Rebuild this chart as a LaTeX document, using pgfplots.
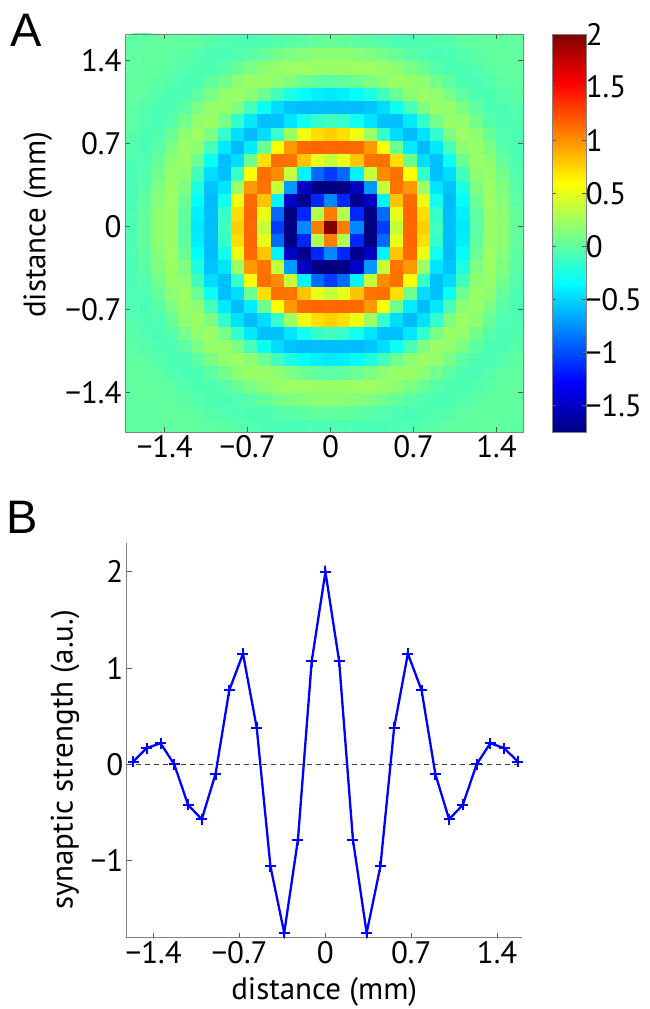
\documentclass[border=0pt]{standalone}
\usepackage{pgfplots}
\pgfplotsset{compat=1.18}
\usepackage{fontspec}
\setmainfont{PT Sans}
\newfontfamily\panelfont{Liberation Sans}
\newcommand{\tfont}{\fontsize{31}{36}\selectfont}
\definecolor{axgray}{RGB}{130,130,130}
\definecolor{mblue}{RGB}{0,0,255}

\begin{document}
\begin{tikzpicture}
\useasboundingbox (0,0) rectangle (649pt,1009pt);
% ---------------- Panel A ----------------
\begin{axis}[
  at={(125pt,577pt)}, anchor=south west,
  scale only axis, width=398pt, height=398pt,
  xmin=-1.736, xmax=1.624, ymin=-1.736, ymax=1.624,
  axis on top,
  xtick={-1.4,-0.7,0,0.7,1.4}, ytick={-1.4,-0.7,0,0.7,1.4},
  xticklabels={−1.4,−0.7,0,0.7,1.4}, yticklabels={−1.4,−0.7,0,0.7,1.4},
  tick align=inside, major tick length=5pt,
  axis line style={draw=axgray, line width=0.8pt},
  tick style={draw=black!65, line width=0.8pt},
  tick label style={font=\tfont},
  label style={font=\tfont},
  ylabel={distance (mm)},
  ylabel style={at={(axis description cs:-0.219,0.52)}, anchor=center},
  colormap/jet,
  point meta min=-1.75, point meta max=2,
  colorbar,
  colorbar/width=34pt,
  colorbar style={
    at={(parent axis.north east)}, anchor=north west, xshift=20.7pt,
    width=34pt,
    axis on top,
    ytick={-1.5,-1,-0.5,0,0.5,1,1.5,2},
    yticklabels={−1.5,−1,−0.5,0,0.5,1,1.5,2},
    yticklabel style={font=\tfont, xshift=-4pt},
    tick align=inside, major tick length=4pt,
    axis line style={draw=axgray, line width=0.8pt},
    tick style={draw=black!65, line width=0.8pt},
    ytick pos=both, yticklabel pos=right,
  },
]
\addplot[matrix plot*, mesh/cols=30, point meta=explicit]
  table[row sep=\\, header=false, meta index=0,
        x expr={(mod(\coordindex,30)-15)*0.112},
        y expr={(floor(\coordindex/30)-15)*0.112}] {
0.00\\ 0.00\\ 0.01\\ 0.01\\ 0.02\\ 0.01\\ 0.00\\ -0.01\\ -0.03\\ -0.05\\ -0.06\\ -0.07\\ -0.07\\ -0.07\\ -0.06\\ -0.06\\ -0.06\\ -0.07\\ -0.07\\ -0.07\\ -0.06\\ -0.05\\ -0.03\\ -0.01\\ 0.00\\ 0.01\\ 0.02\\ 0.01\\ 0.01\\ 0.00\\
0.00\\ 0.01\\ 0.01\\ 0.02\\ 0.01\\ 0.00\\ -0.03\\ -0.05\\ -0.06\\ -0.07\\ -0.06\\ -0.04\\ -0.02\\ 0.00\\ 0.02\\ 0.02\\ 0.02\\ 0.00\\ -0.02\\ -0.04\\ -0.06\\ -0.07\\ -0.06\\ -0.05\\ -0.03\\ 0.00\\ 0.01\\ 0.02\\ 0.01\\ 0.01\\
0.01\\ 0.01\\ 0.02\\ 0.01\\ -0.01\\ -0.04\\ -0.06\\ -0.07\\ -0.05\\ -0.02\\ 0.03\\ 0.08\\ 0.12\\ 0.15\\ 0.17\\ 0.17\\ 0.17\\ 0.15\\ 0.12\\ 0.08\\ 0.03\\ -0.02\\ -0.05\\ -0.07\\ -0.06\\ -0.04\\ -0.01\\ 0.01\\ 0.02\\ 0.01\\
0.01\\ 0.02\\ 0.01\\ -0.01\\ -0.04\\ -0.06\\ -0.06\\ -0.03\\ 0.04\\ 0.11\\ 0.17\\ 0.21\\ 0.23\\ 0.23\\ 0.22\\ 0.22\\ 0.22\\ 0.23\\ 0.23\\ 0.21\\ 0.17\\ 0.11\\ 0.04\\ -0.03\\ -0.06\\ -0.06\\ -0.04\\ -0.01\\ 0.01\\ 0.02\\
0.02\\ 0.01\\ -0.01\\ -0.04\\ -0.07\\ -0.06\\ 0.00\\ 0.08\\ 0.17\\ 0.22\\ 0.22\\ 0.18\\ 0.12\\ 0.05\\ 0.01\\ -0.01\\ 0.01\\ 0.05\\ 0.12\\ 0.18\\ 0.22\\ 0.22\\ 0.17\\ 0.08\\ 0.00\\ -0.06\\ -0.07\\ -0.04\\ -0.01\\ 0.01\\
0.01\\ 0.00\\ -0.04\\ -0.06\\ -0.06\\ 0.00\\ 0.10\\ 0.19\\ 0.23\\ 0.17\\ 0.05\\ -0.10\\ -0.24\\ -0.34\\ -0.40\\ -0.42\\ -0.40\\ -0.34\\ -0.24\\ -0.10\\ 0.05\\ 0.17\\ 0.23\\ 0.19\\ 0.10\\ 0.00\\ -0.06\\ -0.06\\ -0.04\\ 0.00\\
0.00\\ -0.03\\ -0.06\\ -0.06\\ 0.00\\ 0.10\\ 0.20\\ 0.22\\ 0.12\\ -0.08\\ -0.30\\ -0.47\\ -0.56\\ -0.59\\ -0.58\\ -0.58\\ -0.58\\ -0.59\\ -0.56\\ -0.47\\ -0.30\\ -0.08\\ 0.12\\ 0.22\\ 0.20\\ 0.10\\ 0.00\\ -0.06\\ -0.06\\ -0.03\\
-0.01\\ -0.05\\ -0.07\\ -0.03\\ 0.08\\ 0.19\\ 0.22\\ 0.09\\ -0.16\\ -0.42\\ -0.57\\ -0.57\\ -0.44\\ -0.28\\ -0.15\\ -0.10\\ -0.15\\ -0.28\\ -0.44\\ -0.57\\ -0.57\\ -0.42\\ -0.16\\ 0.09\\ 0.22\\ 0.19\\ 0.08\\ -0.03\\ -0.07\\ -0.05\\
-0.03\\ -0.06\\ -0.05\\ 0.04\\ 0.17\\ 0.23\\ 0.12\\ -0.16\\ -0.45\\ -0.59\\ -0.47\\ -0.15\\ 0.23\\ 0.53\\ 0.71\\ 0.77\\ 0.71\\ 0.53\\ 0.23\\ -0.15\\ -0.47\\ -0.59\\ -0.45\\ -0.16\\ 0.12\\ 0.23\\ 0.17\\ 0.04\\ -0.05\\ -0.06\\
-0.05\\ -0.07\\ -0.02\\ 0.11\\ 0.22\\ 0.17\\ -0.08\\ -0.42\\ -0.59\\ -0.41\\ 0.06\\ 0.59\\ 0.97\\ 1.14\\ 1.16\\ 1.15\\ 1.16\\ 1.14\\ 0.97\\ 0.59\\ 0.06\\ -0.41\\ -0.59\\ -0.42\\ -0.08\\ 0.17\\ 0.22\\ 0.11\\ -0.02\\ -0.07\\
-0.06\\ -0.06\\ 0.03\\ 0.17\\ 0.22\\ 0.05\\ -0.30\\ -0.57\\ -0.47\\ 0.06\\ 0.71\\ 1.12\\ 1.11\\ 0.81\\ 0.51\\ 0.38\\ 0.51\\ 0.81\\ 1.11\\ 1.12\\ 0.71\\ 0.06\\ -0.47\\ -0.57\\ -0.30\\ 0.05\\ 0.22\\ 0.17\\ 0.03\\ -0.06\\
-0.07\\ -0.04\\ 0.08\\ 0.21\\ 0.18\\ -0.10\\ -0.47\\ -0.57\\ -0.15\\ 0.59\\ 1.12\\ 1.02\\ 0.38\\ -0.38\\ -0.89\\ -1.06\\ -0.89\\ -0.38\\ 0.38\\ 1.02\\ 1.12\\ 0.59\\ -0.15\\ -0.57\\ -0.47\\ -0.10\\ 0.18\\ 0.21\\ 0.08\\ -0.04\\
-0.07\\ -0.02\\ 0.12\\ 0.23\\ 0.12\\ -0.24\\ -0.56\\ -0.44\\ 0.23\\ 0.97\\ 1.11\\ 0.38\\ -0.72\\ -1.50\\ -1.74\\ -1.75\\ -1.74\\ -1.50\\ -0.72\\ 0.38\\ 1.11\\ 0.97\\ 0.23\\ -0.44\\ -0.56\\ -0.24\\ 0.12\\ 0.23\\ 0.12\\ -0.02\\
-0.07\\ 0.00\\ 0.15\\ 0.23\\ 0.05\\ -0.34\\ -0.59\\ -0.28\\ 0.53\\ 1.14\\ 0.81\\ -0.38\\ -1.50\\ -1.70\\ -1.14\\ -0.78\\ -1.14\\ -1.70\\ -1.50\\ -0.38\\ 0.81\\ 1.14\\ 0.53\\ -0.28\\ -0.59\\ -0.34\\ 0.05\\ 0.23\\ 0.15\\ 0.00\\
-0.06\\ 0.02\\ 0.17\\ 0.22\\ 0.01\\ -0.40\\ -0.58\\ -0.15\\ 0.71\\ 1.16\\ 0.51\\ -0.89\\ -1.74\\ -1.14\\ 0.31\\ 1.07\\ 0.31\\ -1.14\\ -1.74\\ -0.89\\ 0.51\\ 1.16\\ 0.71\\ -0.15\\ -0.58\\ -0.40\\ 0.01\\ 0.22\\ 0.17\\ 0.02\\
-0.06\\ 0.02\\ 0.17\\ 0.22\\ -0.01\\ -0.42\\ -0.58\\ -0.10\\ 0.77\\ 1.15\\ 0.38\\ -1.06\\ -1.75\\ -0.78\\ 1.07\\ 2.00\\ 1.07\\ -0.78\\ -1.75\\ -1.06\\ 0.38\\ 1.15\\ 0.77\\ -0.10\\ -0.58\\ -0.42\\ -0.01\\ 0.22\\ 0.17\\ 0.02\\
-0.06\\ 0.02\\ 0.17\\ 0.22\\ 0.01\\ -0.40\\ -0.58\\ -0.15\\ 0.71\\ 1.16\\ 0.51\\ -0.89\\ -1.74\\ -1.14\\ 0.31\\ 1.07\\ 0.31\\ -1.14\\ -1.74\\ -0.89\\ 0.51\\ 1.16\\ 0.71\\ -0.15\\ -0.58\\ -0.40\\ 0.01\\ 0.22\\ 0.17\\ 0.02\\
-0.07\\ 0.00\\ 0.15\\ 0.23\\ 0.05\\ -0.34\\ -0.59\\ -0.28\\ 0.53\\ 1.14\\ 0.81\\ -0.38\\ -1.50\\ -1.70\\ -1.14\\ -0.78\\ -1.14\\ -1.70\\ -1.50\\ -0.38\\ 0.81\\ 1.14\\ 0.53\\ -0.28\\ -0.59\\ -0.34\\ 0.05\\ 0.23\\ 0.15\\ 0.00\\
-0.07\\ -0.02\\ 0.12\\ 0.23\\ 0.12\\ -0.24\\ -0.56\\ -0.44\\ 0.23\\ 0.97\\ 1.11\\ 0.38\\ -0.72\\ -1.50\\ -1.74\\ -1.75\\ -1.74\\ -1.50\\ -0.72\\ 0.38\\ 1.11\\ 0.97\\ 0.23\\ -0.44\\ -0.56\\ -0.24\\ 0.12\\ 0.23\\ 0.12\\ -0.02\\
-0.07\\ -0.04\\ 0.08\\ 0.21\\ 0.18\\ -0.10\\ -0.47\\ -0.57\\ -0.15\\ 0.59\\ 1.12\\ 1.02\\ 0.38\\ -0.38\\ -0.89\\ -1.06\\ -0.89\\ -0.38\\ 0.38\\ 1.02\\ 1.12\\ 0.59\\ -0.15\\ -0.57\\ -0.47\\ -0.10\\ 0.18\\ 0.21\\ 0.08\\ -0.04\\
-0.06\\ -0.06\\ 0.03\\ 0.17\\ 0.22\\ 0.05\\ -0.30\\ -0.57\\ -0.47\\ 0.06\\ 0.71\\ 1.12\\ 1.11\\ 0.81\\ 0.51\\ 0.38\\ 0.51\\ 0.81\\ 1.11\\ 1.12\\ 0.71\\ 0.06\\ -0.47\\ -0.57\\ -0.30\\ 0.05\\ 0.22\\ 0.17\\ 0.03\\ -0.06\\
-0.05\\ -0.07\\ -0.02\\ 0.11\\ 0.22\\ 0.17\\ -0.08\\ -0.42\\ -0.59\\ -0.41\\ 0.06\\ 0.59\\ 0.97\\ 1.14\\ 1.16\\ 1.15\\ 1.16\\ 1.14\\ 0.97\\ 0.59\\ 0.06\\ -0.41\\ -0.59\\ -0.42\\ -0.08\\ 0.17\\ 0.22\\ 0.11\\ -0.02\\ -0.07\\
-0.03\\ -0.06\\ -0.05\\ 0.04\\ 0.17\\ 0.23\\ 0.12\\ -0.16\\ -0.45\\ -0.59\\ -0.47\\ -0.15\\ 0.23\\ 0.53\\ 0.71\\ 0.77\\ 0.71\\ 0.53\\ 0.23\\ -0.15\\ -0.47\\ -0.59\\ -0.45\\ -0.16\\ 0.12\\ 0.23\\ 0.17\\ 0.04\\ -0.05\\ -0.06\\
-0.01\\ -0.05\\ -0.07\\ -0.03\\ 0.08\\ 0.19\\ 0.22\\ 0.09\\ -0.16\\ -0.42\\ -0.57\\ -0.57\\ -0.44\\ -0.28\\ -0.15\\ -0.10\\ -0.15\\ -0.28\\ -0.44\\ -0.57\\ -0.57\\ -0.42\\ -0.16\\ 0.09\\ 0.22\\ 0.19\\ 0.08\\ -0.03\\ -0.07\\ -0.05\\
0.00\\ -0.03\\ -0.06\\ -0.06\\ 0.00\\ 0.10\\ 0.20\\ 0.22\\ 0.12\\ -0.08\\ -0.30\\ -0.47\\ -0.56\\ -0.59\\ -0.58\\ -0.58\\ -0.58\\ -0.59\\ -0.56\\ -0.47\\ -0.30\\ -0.08\\ 0.12\\ 0.22\\ 0.20\\ 0.10\\ 0.00\\ -0.06\\ -0.06\\ -0.03\\
0.01\\ 0.00\\ -0.04\\ -0.06\\ -0.06\\ 0.00\\ 0.10\\ 0.19\\ 0.23\\ 0.17\\ 0.05\\ -0.10\\ -0.24\\ -0.34\\ -0.40\\ -0.42\\ -0.40\\ -0.34\\ -0.24\\ -0.10\\ 0.05\\ 0.17\\ 0.23\\ 0.19\\ 0.10\\ 0.00\\ -0.06\\ -0.06\\ -0.04\\ 0.00\\
0.02\\ 0.01\\ -0.01\\ -0.04\\ -0.07\\ -0.06\\ 0.00\\ 0.08\\ 0.17\\ 0.22\\ 0.22\\ 0.18\\ 0.12\\ 0.05\\ 0.01\\ -0.01\\ 0.01\\ 0.05\\ 0.12\\ 0.18\\ 0.22\\ 0.22\\ 0.17\\ 0.08\\ 0.00\\ -0.06\\ -0.07\\ -0.04\\ -0.01\\ 0.01\\
0.01\\ 0.02\\ 0.01\\ -0.01\\ -0.04\\ -0.06\\ -0.06\\ -0.03\\ 0.04\\ 0.11\\ 0.17\\ 0.21\\ 0.23\\ 0.23\\ 0.22\\ 0.22\\ 0.22\\ 0.23\\ 0.23\\ 0.21\\ 0.17\\ 0.11\\ 0.04\\ -0.03\\ -0.06\\ -0.06\\ -0.04\\ -0.01\\ 0.01\\ 0.02\\
0.01\\ 0.01\\ 0.02\\ 0.01\\ -0.01\\ -0.04\\ -0.06\\ -0.07\\ -0.05\\ -0.02\\ 0.03\\ 0.08\\ 0.12\\ 0.15\\ 0.17\\ 0.17\\ 0.17\\ 0.15\\ 0.12\\ 0.08\\ 0.03\\ -0.02\\ -0.05\\ -0.07\\ -0.06\\ -0.04\\ -0.01\\ 0.01\\ 0.02\\ 0.01\\
0.00\\ 0.01\\ 0.01\\ 0.02\\ 0.01\\ 0.00\\ -0.03\\ -0.05\\ -0.06\\ -0.07\\ -0.06\\ -0.04\\ -0.02\\ 0.00\\ 0.02\\ 0.02\\ 0.02\\ 0.00\\ -0.02\\ -0.04\\ -0.06\\ -0.07\\ -0.06\\ -0.05\\ -0.03\\ 0.00\\ 0.01\\ 0.02\\ 0.01\\ 0.01\\
};
\end{axis}
\node[font=\panelfont\fontsize{47}{50}\selectfont] at (26pt,979pt) {A};
% ---------------- Panel B ----------------
\begin{axis}[
  at={(126.7pt,71.3pt)}, anchor=south west,
  scale only axis, width=395pt, height=394.7pt,
  xmin=-1.62, xmax=1.60, ymin=-1.8, ymax=2.3,
  axis x line*=bottom, axis y line*=left,
  clip=false,
  xtick={-1.4,-0.7,0,0.7,1.4}, xticklabels={−1.4,−0.7,0,0.7,1.4},
  ytick={-1,0,1,2}, yticklabels={−1,0,1,2},
  tick align=inside, major tick length=5pt,
  axis line style={draw=axgray, line width=0.8pt},
  tick style={draw=black!65, line width=0.8pt},
  tick label style={font=\tfont},
  label style={font=\tfont},
  xlabel={distance (mm)}, ylabel={synaptic strength (a.u.)},
  xlabel style={at={(axis description cs:0.5,-0.1376)}, anchor=center},
  ylabel style={at={(axis description cs:-0.156,0.45)}, anchor=center},
]
\addplot[black!75, line width=0.8pt, dash pattern=on 5pt off 4pt] coordinates {(-1.62,0) (1.60,0)};
\addplot[mblue, line width=2.3pt, mark=+, mark size=5.5pt, mark options={solid, line width=2pt}] coordinates {
(-1.568,0.03) (-1.456,0.17) (-1.344,0.22) (-1.232,0.00) (-1.120,-0.42) (-1.008,-0.57) (-0.896,-0.10) (-0.784,0.77) (-0.672,1.15) (-0.560,0.38) (-0.448,-1.06) (-0.336,-1.75) (-0.224,-0.78) (-0.112,1.07) (0,2.00) (0.112,1.07) (0.224,-0.78) (0.336,-1.75) (0.448,-1.06) (0.560,0.38) (0.672,1.15) (0.784,0.77) (0.896,-0.10) (1.008,-0.57) (1.120,-0.42) (1.232,0.00) (1.344,0.22) (1.456,0.17) (1.568,0.03)
};
\end{axis}
\node[font=\panelfont\fontsize{47}{50}\selectfont] at (22pt,492pt) {B};
\end{tikzpicture}
\end{document}
